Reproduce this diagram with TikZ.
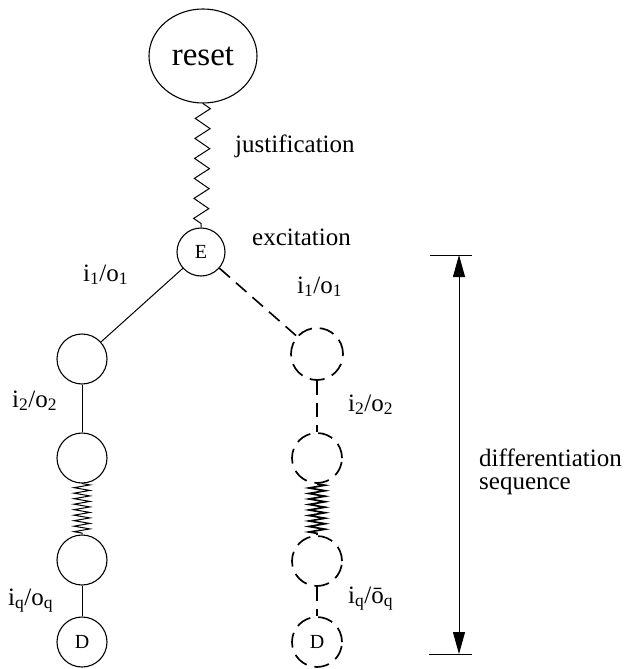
\documentclass[tikz,border=0pt]{standalone}
\usepackage{fontspec}
\setmainfont{Liberation Serif}
\usetikzlibrary{decorations.pathmorphing, arrows.meta, shapes.geometric}
\begin{document}
\begin{tikzpicture}[x=1pt,y=-1pt,
  state/.style={circle, draw, line width=1.1pt, minimum size=50pt, inner sep=0pt, font=\fontsize{20}{20}\selectfont},
  dstate/.style={state, line width=1.7pt, dash pattern=on 15pt off 8pt},
  lbl/.style={font=\fontsize{25}{25}\selectfont, anchor=base west, inner sep=0pt},
  edge/.style={line width=1pt},
  dedge/.style={line width=1.6pt, dash pattern=on 14pt off 8pt},
  bigzz/.style={decorate, decoration={zigzag, segment length=20pt, amplitude=7.5pt}, line width=1pt},
  smallzz/.style={decorate, decoration={zigzag, segment length=5.5pt, amplitude=8pt}, line width=1pt},
  dsmallzz/.style={smallzz, line width=1.7pt},
  span/.style={line width=1pt, {Triangle[length=22pt,width=12pt]}-{Triangle[length=22pt,width=12pt]}},
]
\useasboundingbox (0,0) rectangle (629,669);

\node[ellipse, draw, line width=1.1pt, minimum width=108pt, minimum height=94pt, inner sep=0pt, font=\fontsize{33}{33}\selectfont] (reset) at (203,56) {reset};
\node[state, minimum size=48pt] (E) at (201,252) {E};

\node[state] (L1) at (82,359) {};
\node[state] (L2) at (82,458) {};
\node[state] (L3) at (82,560) {};
\node[state] (LD) at (82,642) {D};

\node[dstate, minimum size=52pt] (R1) at (317,354) {};
\node[dstate] (R2) at (317,458) {};
\node[dstate] (R3) at (317,561) {};
\node[dstate] (RD) at (317,642) {D};

\draw[bigzz] (reset.south) -- (E.north);
\draw[edge] (E) -- (L1);
\draw[edge] (L1) -- (L2);
\draw[smallzz] (L2.south) -- (L3.north);
\draw[edge] (L3) -- (LD);

\draw[dedge] (E) -- (R1);
\draw[dedge] (R1) -- (R2);
\draw[dsmallzz] (R2.south) -- (R3.north);
\draw[dedge] (R3) -- (RD);

\node[lbl] (just) at (235,152) {justification};
\node[lbl] (exc) at (252,245) {excitation};
\node[lbl] (l1) at (83,281) {i\textsubscript{1}/o\textsubscript{1}};
\node[lbl] (r1) at (297,293) {i\textsubscript{1}/o\textsubscript{1}};
\node[lbl] (l2) at (12,407) {i\textsubscript{2}/o\textsubscript{2}};
\node[lbl] (r2) at (348,411) {i\textsubscript{2}/o\textsubscript{2}};
\node[lbl] (lq) at (8,605) {i\textsubscript{q}/o\textsubscript{q}};
\node[lbl] (rq) at (348,603) {i\textsubscript{q}/ō\textsubscript{q}};

\coordinate (dtop) at (459,255);
\coordinate (dbot) at (459,654);
\draw[span] (dtop) -- (dbot);
\draw[line width=1pt] ([xshift=-29pt]dtop) -- ([xshift=13pt]dtop);
\draw[line width=1pt] ([xshift=-30pt]dbot) -- ([xshift=13pt]dbot);
\node[font=\fontsize{25}{23}\selectfont, align=left, anchor=north west, inner sep=0pt] (diff) at (479,449) {differentiation\\sequence};
\end{tikzpicture}
\end{document}
